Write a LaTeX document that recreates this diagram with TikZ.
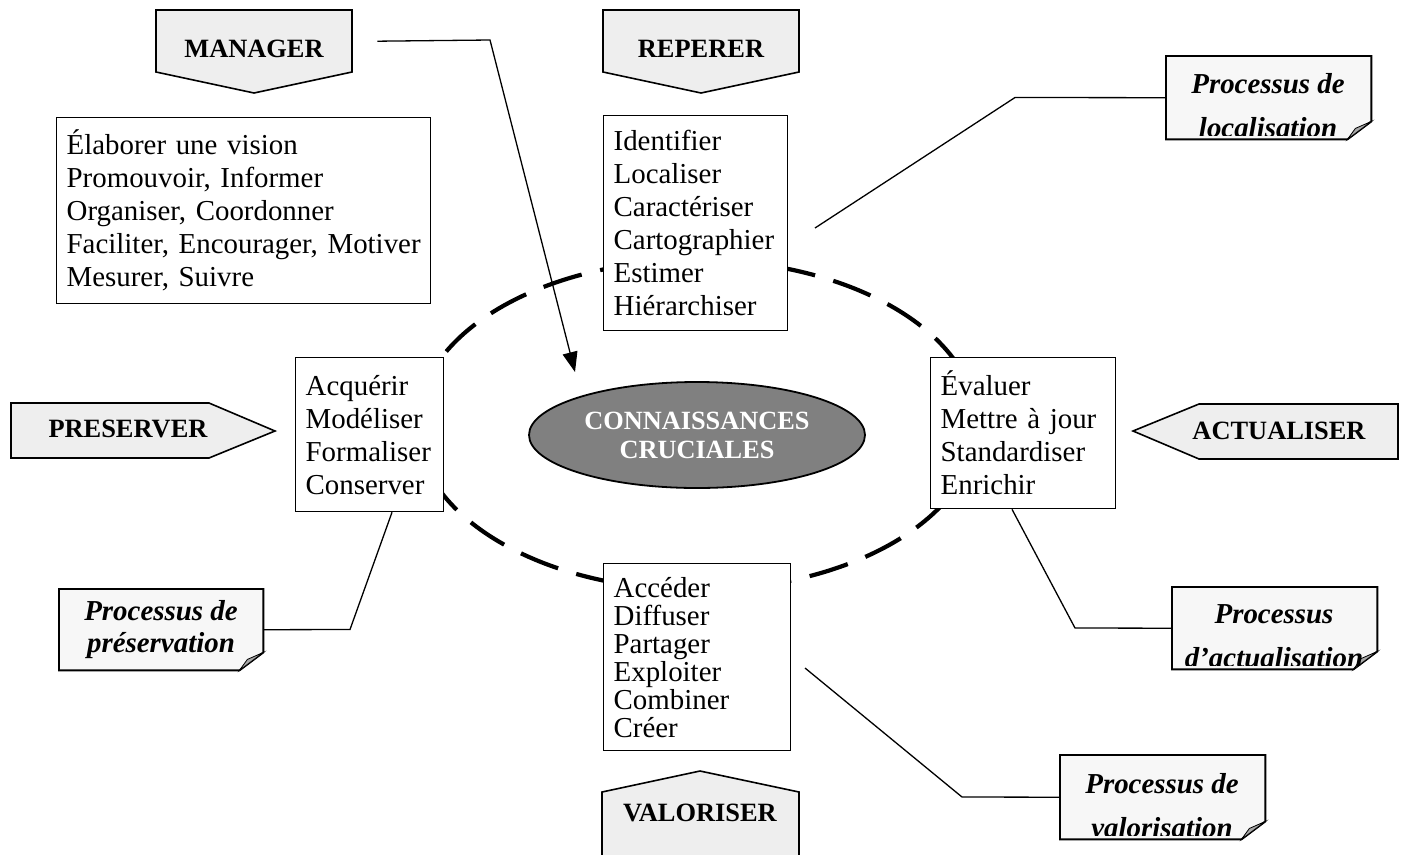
\documentclass[tikz,border=0pt]{standalone}
\usepackage{fontspec}
\setmainfont{Liberation Serif}
\usetikzlibrary{arrows.meta,shapes.geometric}
\definecolor{bannerfill}{HTML}{EEEEEE}
\definecolor{notefill}{HTML}{F7F7F7}
\definecolor{corefill}{HTML}{808080}
\definecolor{foldfill}{HTML}{A8A8A8}

\begin{document}
\begin{tikzpicture}[x=1pt,y=-1pt,
  banner/.style={draw=black, line width=1.6pt, fill=bannerfill, line join=miter},
  bannertext/.style={font=\fontsize{26.4}{30}\selectfont\bfseries, inner sep=0pt, anchor=base},
  listbox/.style={draw=black, line width=1.3pt, fill=white, anchor=north west,
    inner xsep=10pt, inner ysep=0pt, align=left, font=\fontsize{28.9}{33}\selectfont},
  noteframe/.style={draw=none, anchor=north west, inner sep=0pt},
  notebody/.style={draw=black, line width=1.9pt, fill=notefill, line join=miter},
  notefold/.style={draw=black, line width=0.8pt, fill=foldfill},
  notetext/.style={font=\fontsize{28.9}{33}\selectfont\bfseries\itshape, inner sep=0pt, anchor=base},
  link/.style={draw=black, line width=1.3pt},
  ringline/.style={draw=black, line width=4.2pt, dash pattern=on 40pt off 19pt},
  core/.style={draw=black, line width=1.8pt, fill=corefill, ellipse, text=white,
    align=center, inner sep=0pt, font=\fontsize{26.3}{29}\selectfont\bfseries}
]
\path[clip] (0,0) rectangle (1404,854);
\fill[white] (0,0) rectangle (1404,854);

% dashed cycle around the core
\draw[ringline] (697,425) ellipse [x radius=280pt, y radius=165pt];

% core
\node[core, minimum width=336pt, minimum height=106pt] (core) at (697,435)
  {CONNAISSANCES\\CRUCIALES};

% activity lists
\node[listbox, text width=354pt, minimum height=186pt] (mgrlist) at (56,117)
  {Élaborer une vision\\Promouvoir, Informer\\Organiser, Coordonner\\Faciliter, Encourager, Motiver\\Mesurer, Suivre};
\node[listbox, text width=164pt, minimum height=215pt] (replist) at (603,115)
  {Identifier\\Localiser\\Caractériser\\Cartographier\\Estimer\\Hiérarchiser};
\node[listbox, text width=128pt, minimum height=154pt] (prelist) at (295,357)
  {Acquérir\\Modéliser\\Formaliser\\Conserver};
\node[listbox, text width=165pt, minimum height=151pt] (actlist) at (930,357)
  {Évaluer\\Mettre\ à\ jour\\Standardiser\\Enrichir};
\node[listbox, text width=167pt, minimum height=187pt, font=\fontsize{28.9}{28}\selectfont] (vallist) at (603,563)
  {Accéder\\Diffuser\\Partager\\Exploiter\\Combiner\\Créer};

% banners
\node[noteframe, minimum width=196pt, minimum height=62pt] (mgrbox) at (156,10) {};
\path[banner] (156,10) -- (352,10) -- (352,72) -- (254,93) -- (156,72) -- cycle;
\node[bannertext] (mgr) at (254,57) {MANAGER};

\path[banner] (603,10) -- (799,10) -- (799,72) -- (701,93) -- (603,72) -- cycle;
\node[bannertext] (rep) at (701,57) {REPERER};

\path[banner] (11,403) -- (209,403) -- (275,431) -- (209,458) -- (11,458) -- cycle;
\node[bannertext] (pre) at (128,437) {PRESERVER};

\path[banner] (1133,431) -- (1199,404) -- (1398,404) -- (1398,459) -- (1199,459) -- cycle;
\node[bannertext] (act) at (1279,439) {ACTUALISER};

\path[banner] (602,870) -- (602,792) -- (700,771) -- (799,792) -- (799,870);
\node[bannertext] (val) at (700,821) {VALORISER};

% process notes
\node[noteframe, minimum width=205pt, minimum height=83pt] (locnote) at (1166,56) {};
\node[noteframe, minimum width=204pt, minimum height=81pt] (prenote) at (59,589) {};
\node[noteframe, minimum width=205pt, minimum height=82pt] (actnote) at (1172,587) {};
\node[noteframe, minimum width=205pt, minimum height=84pt] (valnote) at (1060,755) {};

\foreach \n in {locnote,prenote,actnote,valnote}{
  \path[notebody] (\n.north west) -- (\n.north east) -- ([yshift=18pt]\n.south east)
    -- ([xshift=-24pt]\n.south east) -- (\n.south west) -- cycle;
  \path[notefold] ([xshift=-24pt]\n.south east) -- ([yshift=18pt]\n.south east)
    -- ([xshift=-16pt,yshift=11pt]\n.south east) -- cycle;
}

\begin{scope}
  \clip ([xshift=2pt,yshift=4pt]locnote.south west) rectangle ([xshift=-2pt,yshift=-2pt]locnote.north east);
  \node[notetext] (loc1) at (1268,93) {Processus de};
  \node[notetext] (loc2) at (1268,137) {localisation};
\end{scope}
\begin{scope}
  \clip ([xshift=2pt,yshift=4pt]prenote.south west) rectangle ([xshift=-2pt,yshift=-2pt]prenote.north east);
  \node[notetext] (pre1) at (161,620) {Processus de};
  \node[notetext] (pre2) at (161,652) {préservation};
\end{scope}
\begin{scope}
  \clip ([xshift=2pt,yshift=4pt]actnote.south west) rectangle ([xshift=-2pt,yshift=-2pt]actnote.north east);
  \node[notetext] (act1) at (1274,623) {Processus};
  \node[notetext] (act2) at (1274,667) {d’actualisation};
\end{scope}
\begin{scope}
  \clip ([xshift=2pt,yshift=4pt]valnote.south west) rectangle ([xshift=-2pt,yshift=-2pt]valnote.north east);
  \node[notetext] (val1) at (1162,793) {Processus de};
  \node[notetext] (val2) at (1162,837) {valorisation};
\end{scope}

% connectors
\coordinate (mgrbend) at (490,40);
\coordinate (mgrtip) at (575,372);
\draw[link, -{Triangle[length=20pt,width=15pt]}] ([xshift=25pt]mgrbox.east) -- (mgrbend) -- (mgrtip);

\coordinate (locbend) at (1015,97.5);
\coordinate (locend) at (815,228);
\draw[link] (locnote.west) -- (locbend) -- (locend);

\coordinate (prebend) at (350,629.5);
\draw[link] (prenote.east) -- (prebend) -- ([xshift=97pt]prelist.south west);

\coordinate (actbend) at (1075,628);
\draw[link] (actnote.west) -- (actbend) -- ([xshift=82pt]actlist.south west);

\coordinate (valbend) at (962,797);
\coordinate (valend) at (805,668);
\draw[link] (valnote.west) -- (valbend) -- (valend);
\end{tikzpicture}
\end{document}
